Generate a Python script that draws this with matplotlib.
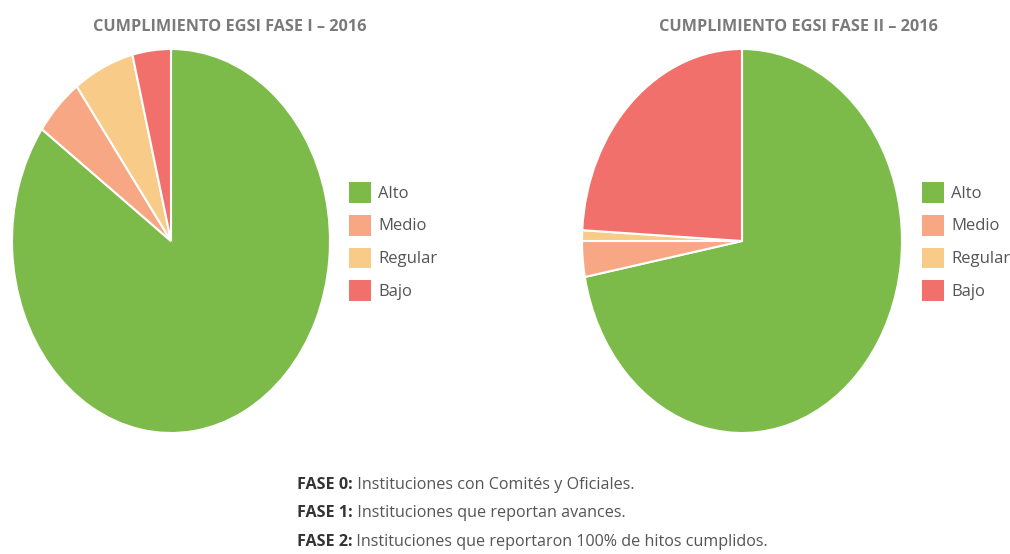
import matplotlib
matplotlib.use("Agg")
import matplotlib.pyplot as plt
import matplotlib.patches as mPatches

plt.rcParams['font.family'] = ['Open Sans', 'DejaVu Sans']

categories = ["Alto", "Medio", "Regular", "Bajo"]
fase1_vals = [84.9, 5.0, 6.2, 3.9]
fase2_vals = [72.0, 3.0, 0.9, 24.1]
titles = ["CUMPLIMIENTO EGSI FASE I \u2013 2016", "CUMPLIMIENTO EGSI FASE II \u2013 2016"]
notes = [("FASE 0:", " Instituciones con Comités y Oficiales."),
         ("FASE 1:", " Instituciones que reportan avances."),
         ("FASE 2:", " Instituciones que reportaron 100% de hitos cumplidos.")]

colors = ["#7cbb4a", "#f8a784", "#f8cc88", "#f2706c"]

W, H = 1010, 554
fig = plt.figure(figsize=(W / 100, H / 100), dpi=100)


def fx(px):
    return px / W


def fy(py):
    return 1 - py / H


# pie centre x (px), half width, values, title x, legend x
# (the source picture is stretched vertically, so pies are ellipses)
pies = [(171, 159, fase1_vals, 230, 349),
        (742, 160, fase2_vals, 798, 922)]

for i, (cx, rx, vals, tx, legx) in enumerate(pies):
    ax = fig.add_axes([fx(cx - rx), fy(433), fx(2 * rx), 384 / H])
    ax.pie(vals, colors=colors, startangle=90, counterclock=False, radius=1,
           wedgeprops=dict(edgecolor='white', linewidth=1.5))
    ax.set_aspect('auto')
    ax.set_xlim(-1, 1)
    ax.set_ylim(-1, 1)
    ax.axis('off')

    fig.text(fx(tx), fy(27), titles[i], ha='center', va='center',
             fontsize=11.7, fontweight='bold', color='#7a7a7a')

    handles = [mPatches.Patch(facecolor=c, edgecolor='none', label=l)
               for c, l in zip(colors, categories)]
    fig.legend(handles=handles, loc='center left',
               bbox_to_anchor=(fx(legx), fy(241.5)), frameon=False,
               fontsize=12, labelcolor='#555555', borderpad=0, borderaxespad=0,
               handlelength=1.3, handleheight=1.56, labelspacing=0.72,
               handletextpad=0.45)

# footnote: bold label followed by normal text
ys = [485, 513, 542]
for (bold, rest), y in zip(notes, ys):
    t = fig.text(fx(297), fy(y), bold, ha='left', va='center',
                 fontsize=11.6, fontweight='bold', color='#333333')
    plt.annotate(rest, xy=(1, 0), xycoords=t, xytext=(0, 0), textcoords='offset points',
                 ha='left', va='bottom', fontsize=11.6, color='#555555')

fig.savefig("out.png", dpi=100)
